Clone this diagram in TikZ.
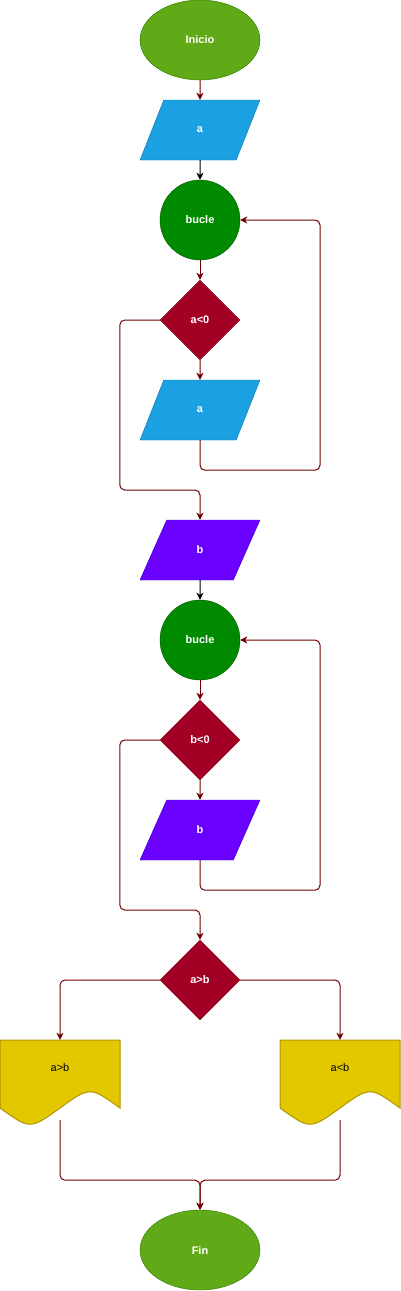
\documentclass[tikz,border=0pt]{standalone}
\usepackage{fontspec}
\setmainfont{Liberation Sans}
\usetikzlibrary{shapes.geometric,arrows.meta}
\definecolor{edgeC}{HTML}{6F0000}
\definecolor{limeF}{HTML}{60A917}\definecolor{limeS}{HTML}{2D7600}
\definecolor{blueF}{HTML}{1BA1E2}\definecolor{blueS}{HTML}{006EAF}
\definecolor{greenF}{HTML}{008A00}\definecolor{greenS}{HTML}{005700}
\definecolor{redF}{HTML}{A20025}\definecolor{redS}{HTML}{6F0000}
\definecolor{purF}{HTML}{6A00FF}\definecolor{purS}{HTML}{3700CC}
\definecolor{yelF}{HTML}{E3C800}\definecolor{yelS}{HTML}{B09500}
\tikzset{
  lbl/.style={font=\fontsize{11}{13}\selectfont\bfseries, text=white},
  term/.style={ellipse, draw=limeS, fill=limeF, minimum width=120pt, minimum height=80pt, inner sep=0pt, lbl},
  io/.style={trapezium, trapezium left angle=71.565, trapezium right angle=108.435, trapezium stretches=true, minimum width=120pt, minimum height=60pt, inner sep=0pt, lbl},
  ioA/.style={io, draw=blueS, fill=blueF},
  ioB/.style={io, draw=purS, fill=purF},
  loopc/.style={circle, draw=greenS, fill=greenF, minimum size=80pt, inner sep=0pt, lbl},
  dec/.style={diamond, aspect=1, draw=redS, fill=redF, minimum size=80pt, inner sep=0pt, lbl},
  docbox/.style={rectangle, minimum width=120pt, minimum height=80pt, inner sep=0pt},
  doctext/.style={font=\fontsize{11}{13}\selectfont, text=black},
  conn/.style={draw=edgeC, line width=1pt, rounded corners=5pt, -{Stealth[length=7pt,width=7pt,inset=2pt]}},
  connk/.style={conn, draw=black},
}
\newcommand{\docshape}[2]{% x0, y0 top-left
  \path[draw=yelS, fill=yelF, line width=1pt] (#1,#2) -- ++(120,0) -- ++(0,68)
    .. controls ({#1+90},{#2+46.4}) .. ({#1+60},{#2+68})
    .. controls ({#1+30},{#2+89.6}) .. ({#1},{#2+68}) -- cycle;}
\begin{document}
\begin{tikzpicture}[x=1pt,y=-1pt]
\useasboundingbox (0,0) rectangle (401,1291);
\node[term] (ini) at (200,40) {Inicio};
\node[ioA] (a1) at (200,130) {a};
\node[loopc] (b1) at (200,220) {bucle};
\node[dec] (d1) at (200,320) {a<0};
\node[ioA] (a2) at (200,410) {a};
\node[ioB] (p1) at (200,550) {b};
\node[loopc] (b2) at (200,640) {bucle};
\node[dec] (d2) at (200,740) {b<0};
\node[ioB] (p2) at (200,830) {b};
\node[dec] (d3) at (200,980) {a>b};
\docshape{0}{1040}
\docshape{280}{1040}
\node[docbox] (doc1) at (60,1080) {};
\node[docbox] (doc2) at (340,1080) {};
\node[doctext] (t1) at (60,1068) {a>b};
\node[doctext] (t2) at (340,1068) {a<b};
\node[term] (fin) at (200,1250) {Fin};

\draw[conn] (ini.south) -- (a1.north);
\draw[connk] (a1.south) -- (b1.north);
\draw[conn] (b1.south) -- (d1.north);
\draw[conn] (d1.south) -- (a2.north);
\draw[conn] (a2.south) -- ++(0,30) -- ++(120,0) |- (b1.east);
\draw[conn] (d1.west) -- ++(-40,0) -- ++(0,170) -| (p1.north);
\draw[connk] (p1.south) -- (b2.north);
\draw[conn] (b2.south) -- (d2.north);
\draw[conn] (d2.south) -- (p2.north);
\draw[conn] (p2.south) -- ++(0,30) -- ++(120,0) |- (b2.east);
\draw[conn] (d2.west) -- ++(-40,0) -- ++(0,170) -| (d3.north);
\draw[conn] (d3.west) -| (doc1.north);
\draw[conn] (d3.east) -| (doc2.north);
\draw[conn] (doc1.south) -- ++(0,60) -| (fin.north);
\draw[conn] (doc2.south) -- ++(0,60) -| (fin.north);
\end{tikzpicture}
\end{document}
